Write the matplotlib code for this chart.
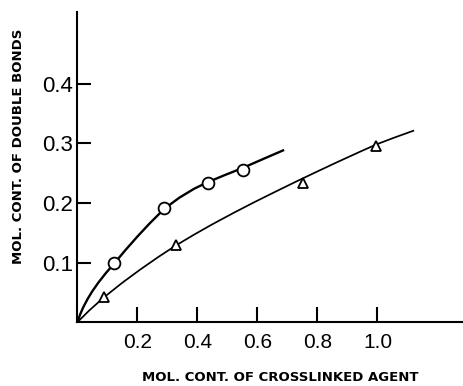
import numpy as np
import matplotlib
matplotlib.use("Agg")
import matplotlib.pyplot as plt

circle_x = [0.123, 0.289, 0.434, 0.553]
circle_y = [0.0995, 0.192, 0.234, 0.256]
tri_x = [0.089, 0.328, 0.751, 0.996]
tri_y = [0.042, 0.130, 0.234, 0.296]

## Hand-drawn fit curves
circle_curve_x = [0, 0.01, 0.02, 0.035, 0.05, 0.07, 0.095, 0.123, 0.16, 0.20, 0.24,
                  0.289, 0.34, 0.39, 0.434, 0.49, 0.55, 0.62, 0.689]
circle_curve_y = [0, 0.014, 0.0255, 0.0398, 0.0521, 0.0665, 0.0825, 0.0987, 0.1209, 0.1437,
                  0.1653, 0.190, 0.209, 0.2242, 0.2348, 0.2466, 0.2586, 0.274, 0.289]
tri_curve_x = [0, 0.04, 0.089, 0.15, 0.21, 0.27, 0.328, 0.39, 0.45, 0.52, 0.59, 0.66,
               0.73, 0.80, 0.87, 0.94, 0.996, 1.06, 1.122]
tri_curve_y = [0, 0.020, 0.042, 0.0664, 0.0886, 0.1096, 0.1287, 0.1473, 0.1644, 0.1833,
               0.2015, 0.219, 0.2362, 0.253, 0.2695, 0.2856, 0.2982, 0.3104, 0.3216]

xticks = [0.2, 0.4, 0.6, 0.8, 1.0]
yticks = [0.1, 0.2, 0.3, 0.4]

tick_font = ['Liberation Sans', 'DejaVu Sans']

def main():
    fig = plt.figure(figsize=(4.63, 3.86), dpi=100)
    ax = fig.add_axes([0.167, 0.165, 0.833, 0.805])

    ax.plot(circle_curve_x, circle_curve_y, color='black', lw=1.7,
            solid_capstyle='butt', solid_joinstyle='round')
    ax.plot(tri_curve_x, tri_curve_y, color='black', lw=1.25,
            solid_capstyle='butt', solid_joinstyle='round')
    ax.plot(circle_x, circle_y, 'o', ms=8.5, mfc='white', mec='black', mew=1.3)
    ax.plot(tri_x, tri_y, '^', ms=7, mfc='white', mec='black', mew=1.3)

    ax.set_xlim(0, 1.285)
    ax.set_ylim(0, 0.521)
    for s in ['top', 'right']:
        ax.spines[s].set_visible(False)
    for s in ['left', 'bottom']:
        ax.spines[s].set_linewidth(1.5)

    ax.set_xticks(xticks)
    ax.set_xticklabels(['0.2', '0.4', '0.6', '0.8', '1.0'], family=tick_font, fontsize=15)
    ax.set_yticks(yticks)
    ax.set_yticklabels(['0.1', '0.2', '0.3', '0.4'], family=tick_font, fontsize=16)
    ax.tick_params(axis='x', direction='in', length=11, width=1.5, pad=8)
    ax.tick_params(axis='y', direction='in', length=10, width=1.5, pad=3)

    fig.text(0.605, 0.022, 'MOL. CONT. OF CROSSLINKED AGENT', ha='center', va='center',
             fontsize=9.5, fontweight='bold', family='DejaVu Sans')
    fig.text(0.039, 0.622, 'MOL. CONT. OF DOUBLE BONDS', ha='center', va='center',
             rotation=90, fontsize=9.5, fontweight='bold', family='DejaVu Sans')

    fig.savefig('out.png', dpi=100)

if __name__ == "__main__":
    main()
